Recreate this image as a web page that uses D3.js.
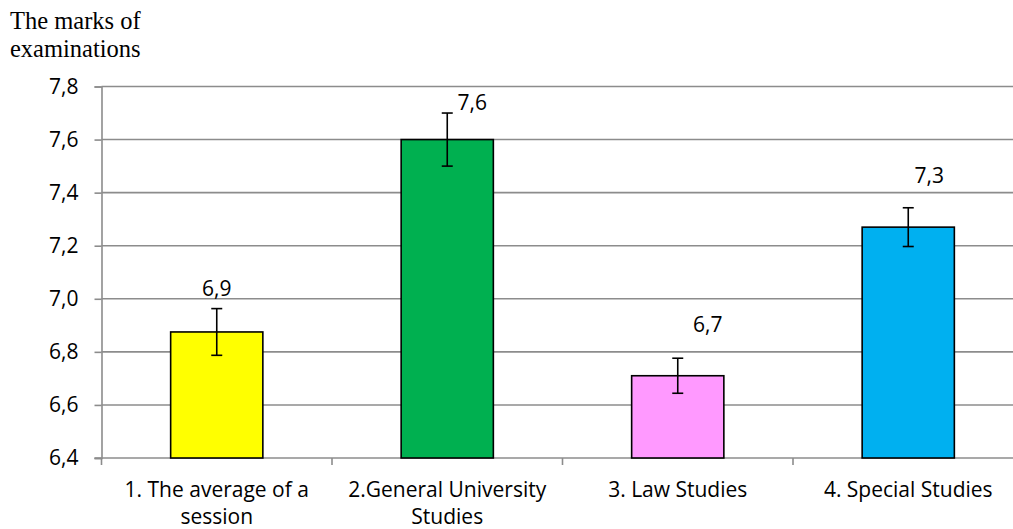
<!DOCTYPE html>
<html>
<head>
<meta charset="utf-8">
<script src="https://cdn.jsdelivr.net/npm/d3@7"></script>
<style>
  html, body { margin: 0; padding: 0; background: #fff; }
  svg { display: block; }
</style>
</head>
<body>
<svg id="chart" width="1013" height="529"></svg>
<script>
// ---- data ----
const categories = ["1. The average of a session", "2.General University Studies", "3. Law Studies", "4. Special Studies"];
const categoryLines = [["1. The average of a", "session"], ["2.General University", "Studies"], ["3. Law Studies"], ["4. Special Studies"]];
const values = [6.875, 7.6, 6.71, 7.27];
const errors = [0.088, 0.1, 0.066, 0.073];
const yTicks = [6.4, 6.6, 6.8, 7.0, 7.2, 7.4, 7.6, 7.8];
const colors = ["#FFFF00", "#00B050", "#FF99FF", "#00B0F0"];
const yTitle = ["The marks of", "examinations"];

// ---- layout ----
const plotLeft = 101.5, plotRight = 1023.5, plotTop = 86.5, plotBottom = 458;
const labelOffsets = [[0, -36], [25, -30], [30, -44], [21, -44]];
const fmt = v => d3.format(".1f")(v).replace(".", ",");

const svg = d3.select("#chart");
const x = d3.scaleBand().domain(categories).range([plotLeft, plotRight]).paddingInner(0.6).paddingOuter(0.3);
const y = d3.scaleLinear().domain([6.4, 7.8]).range([plotBottom, plotTop]);
const step = x.step();

// gridlines
svg.append("g").selectAll("line").data(yTicks.slice(1)).join("line")
  .attr("x1", plotLeft).attr("x2", 1013)
  .attr("y1", d => y(d)).attr("y2", d => y(d))
  .attr("stroke", "#8c8c8c").attr("stroke-width", 1.6);

// y axis
const yAxis = d3.axisLeft(y).tickValues(yTicks).tickFormat(fmt).tickSize(7).tickPadding(16);
const gy = svg.append("g").attr("transform", `translate(${plotLeft},0)`).call(yAxis);
gy.select(".domain").attr("stroke", "#8c8c8c").attr("stroke-width", 1.6);
gy.selectAll(".tick line").attr("stroke", "#8c8c8c").attr("stroke-width", 1.6);
gy.selectAll(".tick text").attr("font-family", "'Open Sans', sans-serif").attr("font-size", 21).attr("fill", "#000");

// x axis line + ticks at category boundaries
svg.append("line").attr("x1", plotLeft - 7).attr("x2", 1013).attr("y1", plotBottom).attr("y2", plotBottom)
  .attr("stroke", "#8c8c8c").attr("stroke-width", 1.6);
const boundaries = d3.range(categories.length + 1).map(i => plotLeft + i * step);
svg.append("g").selectAll("line").data(boundaries).join("line")
  .attr("x1", d => d).attr("x2", d => d).attr("y1", plotBottom).attr("y2", plotBottom + 7)
  .attr("stroke", "#8c8c8c").attr("stroke-width", 1.6);

// x labels
const xl = svg.append("g").selectAll("text").data(categories).join("text")
  .attr("x", d => x(d) + x.bandwidth() / 2)
  .attr("y", 497)
  .attr("text-anchor", "middle")
  .attr("font-family", "'Open Sans', sans-serif").attr("font-size", 21).attr("fill", "#000");
xl.each(function(d, i) {
  const t = d3.select(this);
  categoryLines[i].forEach((line, j) => {
    t.append("tspan").attr("x", x(d) + x.bandwidth() / 2).attr("dy", j === 0 ? 0 : 27).text(line);
  });
});

// bars
svg.append("g").selectAll("rect").data(values).join("rect")
  .attr("x", (d, i) => x(categories[i]))
  .attr("width", x.bandwidth())
  .attr("y", d => y(d))
  .attr("height", d => plotBottom - y(d))
  .attr("fill", (d, i) => colors[i])
  .attr("stroke", "#000").attr("stroke-width", 1.6);

// error bars
const eg = svg.append("g").attr("stroke", "#000").attr("stroke-width", 1.6);
values.forEach((v, i) => {
  const cx = x(categories[i]) + x.bandwidth() / 2;
  eg.append("line").attr("x1", cx).attr("x2", cx).attr("y1", y(v + errors[i])).attr("y2", y(v - errors[i]));
  [v + errors[i], v - errors[i]].forEach(e => {
    eg.append("line").attr("x1", cx - 5.5).attr("x2", cx + 5.5).attr("y1", y(e)).attr("y2", y(e));
  });
});

// value labels
svg.append("g").selectAll("text").data(values).join("text")
  .attr("x", (d, i) => x(categories[i]) + x.bandwidth() / 2 + labelOffsets[i][0])
  .attr("y", (d, i) => y(d) + labelOffsets[i][1])
  .attr("text-anchor", "middle")
  .attr("font-family", "'Open Sans', sans-serif").attr("font-size", 21).attr("fill", "#000")
  .text(d => fmt(d));

// y title
svg.append("g").selectAll("text").data(yTitle).join("text")
  .attr("x", 10).attr("y", (d, i) => 29 + i * 28)
  .attr("font-family", "'Liberation Serif', 'Times New Roman', serif").attr("font-size", 24.5).attr("fill", "#000")
  .text(d => d);
</script>
</body>
</html>
